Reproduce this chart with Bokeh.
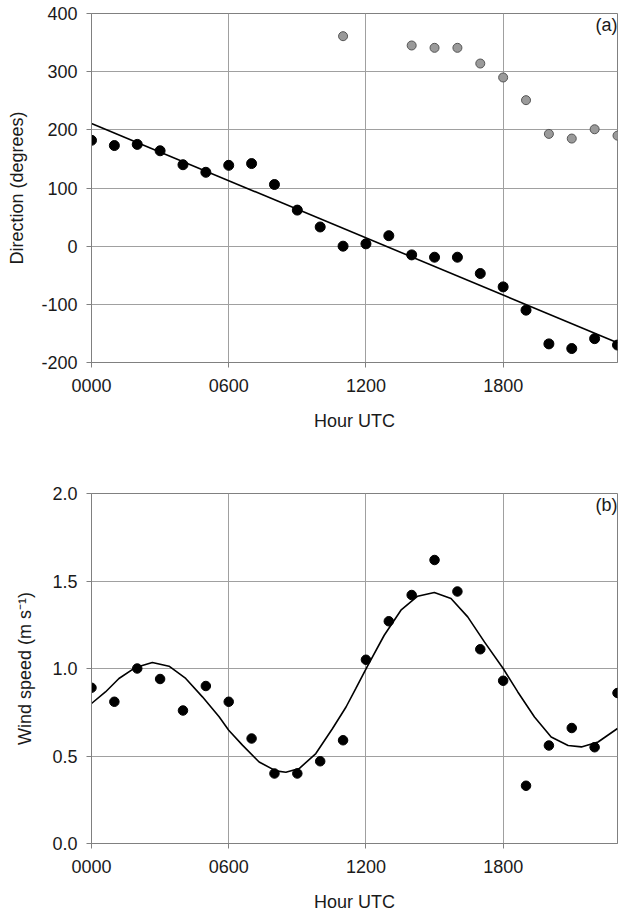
from bokeh.plotting import figure
from bokeh.layouts import column
from bokeh.models import FixedTicker, Label, Range1d
from bokeh.embed import file_html
from bokeh.resources import INLINE

# ---------------- data ----------------
hours = list(range(24))
x_ticks = [0, 6, 12, 18]
x_tick_labels = ["0000", "0600", "1200", "1800"]

# (a) wind direction
direction = [182, 173, 175, 164, 140, 127, 139, 142, 106, 62, 33, 0,
             4, 18, -15, -19, -19, -47, -70, -110, -168, -176, -159, -170]
alt_hours = [11, 14, 15, 16, 17, 18, 19, 20, 21, 22, 23]
alt_direction = [361, 345, 341, 341, 314, 290, 251, 193, 185, 201, 190]
fit_dir_x = [0, 23]
fit_dir_y = [211, -166]
dir_ticks = [-200, -100, 0, 100, 200, 300, 400]
dir_tick_labels = ["-200", "-100", "0", "100", "200", "300", "400"]

# (b) wind speed
speed = [0.89, 0.81, 1.00, 0.94, 0.76, 0.90, 0.81, 0.60, 0.40, 0.40, 0.47, 0.59,
         1.05, 1.27, 1.42, 1.62, 1.44, 1.11, 0.93, 0.33, 0.56, 0.66, 0.55, 0.86]
fit_spd_x = [0, 0.61, 1.20, 1.93, 2.66, 3.39, 4.12, 4.85, 5.58, 6.0, 6.60, 7.33,
             8.06, 8.50, 9.08, 9.81, 10.54, 11.13, 11.56, 12.05, 12.80, 13.53,
             14.26, 14.99, 15.72, 16.45, 17.18, 18.0, 18.64, 19.37, 20.10, 20.84,
             21.42, 22.15, 23.0]
fit_spd_y = [0.80, 0.866, 0.943, 1.006, 1.034, 1.013, 0.943, 0.838, 0.724, 0.647,
             0.562, 0.466, 0.415, 0.407, 0.428, 0.514, 0.657, 0.78, 0.886, 1.009,
             1.19, 1.333, 1.413, 1.434, 1.40, 1.295, 1.152, 1.0, 0.866, 0.723,
             0.609, 0.56, 0.552, 0.58, 0.657]
spd_ticks = [0.0, 0.5, 1.0, 1.5, 2.0]
spd_tick_labels = ["0.0", "0.5", "1.0", "1.5", "2.0"]

FONT = "Liberation Sans"
FS = "18px"
GRID = "#a0a0a0"
AX = "#808080"
TXT = "#1a1a1a"


def style(p, yticks, ylabels, ylabel):
    p.xaxis.ticker = FixedTicker(ticks=x_ticks)
    p.xaxis.major_label_overrides = {t: l for t, l in zip(x_ticks, x_tick_labels)}
    p.yaxis.ticker = FixedTicker(ticks=yticks)
    p.yaxis.major_label_overrides = {t: l for t, l in zip(yticks, ylabels)}
    p.xgrid.ticker = FixedTicker(ticks=x_ticks)
    p.ygrid.ticker = FixedTicker(ticks=yticks)
    p.xaxis.axis_label = "Hour UTC"
    p.yaxis.axis_label = ylabel
    for ax in (p.xaxis, p.yaxis):
        ax.axis_label_text_font = FONT
        ax.axis_label_text_font_size = FS
        ax.axis_label_text_font_style = "normal"
        ax.axis_label_text_color = TXT
        ax.major_label_text_font = FONT
        ax.major_label_text_font_size = FS
        ax.major_label_text_color = TXT
        ax.axis_line_color = AX
        ax.major_tick_line_color = AX
        ax.major_tick_in = 0
        ax.major_tick_out = 5
        ax.minor_tick_line_color = None
    p.xaxis.major_label_standoff = 11
    p.xaxis.axis_label_standoff = 16
    p.yaxis.major_label_standoff = 9
    p.yaxis.axis_label_standoff = 11
    p.grid.grid_line_color = GRID
    p.grid.grid_line_width = 1
    p.outline_line_color = AX
    p.outline_line_width = 1
    p.background_fill_color = "white"
    p.border_fill_color = "white"


# ---------------- panel (a) ----------------
p1 = figure(frame_width=526, frame_height=349, output_backend="svg",
            toolbar_location=None, x_range=Range1d(0, 23), y_range=Range1d(-200, 400),
            min_border_left=91, min_border_right=3, min_border_top=13,
            min_border_bottom=88)
style(p1, dir_ticks, dir_tick_labels, "Direction (degrees)")
p1.line(fit_dir_x, fit_dir_y, line_color="black", line_width=1.6)
p1.scatter(alt_hours, alt_direction, size=9, fill_color="#9a9a9a",
           line_color="#555555", line_width=1)
p1.scatter(hours, direction, size=10, fill_color="black", line_color="black")
p1.add_layout(Label(x=23, y=400, text="(a)", text_align="right", text_baseline="top",
                    x_offset=0, y_offset=-1, text_font=FONT, text_font_size=FS,
                    text_color=TXT))

# ---------------- panel (b) ----------------
p2 = figure(frame_width=526, frame_height=350, output_backend="svg",
            toolbar_location=None, x_range=Range1d(0, 23), y_range=Range1d(0, 2),
            min_border_left=91, min_border_right=3, min_border_top=43,
            min_border_bottom=70)
style(p2, spd_ticks, spd_tick_labels, "Wind speed (m s⁻¹)")
p2.yaxis.axis_label_standoff = 14
p2.line(fit_spd_x, fit_spd_y, line_color="black", line_width=1.6)
p2.scatter(hours, speed, size=9.5, fill_color="black", line_color="black")
p2.add_layout(Label(x=23, y=2, text="(b)", text_align="right", text_baseline="top",
                    x_offset=0, y_offset=-1, text_font=FONT, text_font_size=FS,
                    text_color=TXT))

layout = column(p1, p2, spacing=0)
open("out.html", "w").write(file_html(layout, INLINE))
